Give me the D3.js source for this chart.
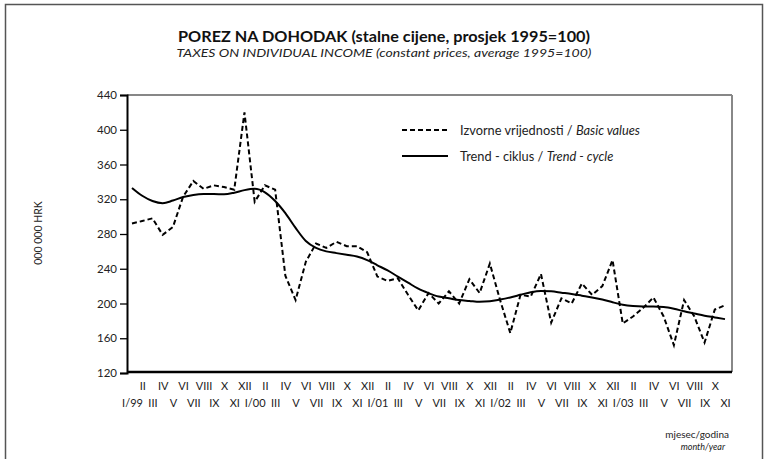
<!DOCTYPE html>
<html><head><meta charset="utf-8">
<script src="https://cdn.jsdelivr.net/npm/d3@7/dist/d3.min.js"></script>
<style>body{margin:0;background:#fff}svg{display:block;font-family:Lato,"Open Sans",sans-serif}</style>
</head><body>
<script>
const months = ["I","II","III","IV","V","VI","VII","VIII","IX","X","XI","XII"];
const years = ["99","00","01","02","03"];
const basicValues = [292,295,298,279,288,323,341,332,336,334,331,420,
  317,336,331,232,204,248,269,264,271,266,266,259,
  231,226,229,210,192,212,200,214,200,228,212,246,
  204,166,210,208,234,178,206,200,223,210,220,250,
  177,185,195,207,185,152,204,185,155,193,198];
const trendValues = [333,324,318,315.5,318.5,322.5,325,326,326,325.7,327.5,330.5,
  332,328,318,304,287,272,264,260,258,256,254,250,
  244,238,231,224,217,212,208,206,204,203,202,202.5,
  204.5,207,210,213,214.5,214,212.5,211,209,207,204.5,201.5,
  198.5,197,196.5,196.5,196,194,191,188.5,186,184,182];
const yTicks = [120,160,200,240,280,320,360,400,440];

const labels = basicValues.map((d,i)=>{
  const m = months[i%12];
  return m==="I" ? "I/"+years[Math.floor(i/12)] : m;
});

const W=767,H=459;
const svg=d3.select("body").append("svg").attr("width",W).attr("height",H);
const L=127,R=732,T=95,B=372;

svg.append("rect").attr("x",5.5).attr("y",4.5).attr("width",757).attr("height",470)
  .attr("fill","none").attr("stroke","#555").attr("stroke-width",1.5);

const x=d3.scalePoint().domain(d3.range(basicValues.length)).range([132,725]);
const y=d3.scaleLinear().domain([120,440]).range([373,95]);

svg.append("text").attr("x",384).attr("y",42).attr("text-anchor","middle")
  .attr("font-weight","bold").attr("font-size",15.5).attr("fill","#111")
  .attr("textLength",412).attr("lengthAdjust","spacingAndGlyphs")
  .text("POREZ NA DOHODAK (stalne cijene, prosjek 1995=100)");
svg.append("text").attr("x",384).attr("y",57).attr("text-anchor","middle")
  .attr("font-style","italic").attr("font-size",12).attr("fill","#222")
  .attr("textLength",415).attr("lengthAdjust","spacingAndGlyphs")
  .text("TAXES ON INDIVIDUAL INCOME (constant prices, average 1995=100)");

// frame
svg.append("line").attr("x1",L).attr("x2",R).attr("y1",T).attr("y2",T).attr("stroke","#111").attr("stroke-width",1.2);
svg.append("line").attr("x1",R).attr("x2",R).attr("y1",T).attr("y2",B).attr("stroke","#888").attr("stroke-width",2);

// y axis
const ya=svg.append("g").attr("transform",`translate(${L},0)`)
  .call(d3.axisLeft(y).tickValues(yTicks).tickSize(7).tickPadding(3));
ya.select(".domain").attr("stroke","#000").attr("stroke-width",2);
ya.selectAll(".tick line").attr("stroke","#000").attr("stroke-width",1.3);
ya.selectAll(".tick text").attr("font-size",11.5).attr("fill","#222").attr("font-family","Lato,sans-serif");

svg.append("text").attr("transform","translate(42,233) rotate(-90)").attr("text-anchor","middle")
  .attr("font-size",10.5).attr("fill","#222").text("000 000 HRK");

// x axis
const xa=svg.append("g").attr("transform",`translate(0,${B})`)
  .call(d3.axisBottom(x).tickSize(0).tickFormat(i=>labels[i]));
xa.select(".domain").attr("d",`M${L},0H${R}`).attr("stroke","#000").attr("stroke-width",2.5);
xa.selectAll(".tick text").attr("font-size",11).attr("fill","#222").attr("font-family","Lato,sans-serif")
  .attr("dy",null).attr("y",(i)=> i%2===1 ? 18 : 35);

// lines
const lineBasic=d3.line().x((d,i)=>x(i)).y(d=>y(d));
const lineTrend=d3.line().x((d,i)=>x(i)).y(d=>y(d)).curve(d3.curveMonotoneX);
svg.append("path").datum(basicValues).attr("d",lineBasic).attr("fill","none")
  .attr("stroke","#000").attr("stroke-width",2).attr("stroke-dasharray","5,3");
svg.append("path").datum(trendValues).attr("d",lineTrend).attr("fill","none")
  .attr("stroke","#000").attr("stroke-width",2);

// legend
svg.append("line").attr("x1",402).attr("x2",448).attr("y1",130).attr("y2",130)
  .attr("stroke","#000").attr("stroke-width",2).attr("stroke-dasharray","5,3");
svg.append("line").attr("x1",402).attr("x2",448).attr("y1",156).attr("y2",156)
  .attr("stroke","#000").attr("stroke-width",2);
const t1=svg.append("text").attr("x",460).attr("y",134.5).attr("font-size",12.8).attr("fill","#222");
t1.append("tspan").text("Izvorne vrijednosti / ");
t1.append("tspan").attr("font-style","italic").text("Basic values");
const t2=svg.append("text").attr("x",460).attr("y",160.5).attr("font-size",12.8).attr("fill","#222");
t2.append("tspan").text("Trend - ciklus / ");
t2.append("tspan").attr("font-style","italic").text("Trend - cycle");

svg.append("text").attr("x",729).attr("y",438).attr("text-anchor","end").attr("font-size",10).attr("fill","#222").text("mjesec/godina");
svg.append("text").attr("x",725).attr("y",450).attr("text-anchor","end").attr("font-size",9).attr("font-style","italic").attr("fill","#222").text("month/year");
</script>
</body></html>
